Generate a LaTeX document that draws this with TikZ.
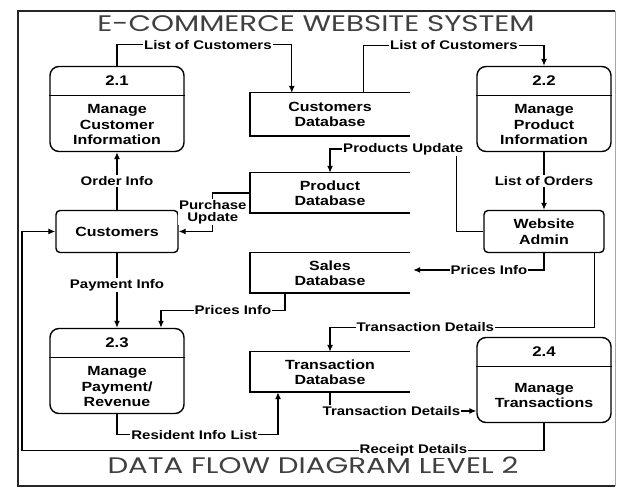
\documentclass[tikz,border=0pt]{standalone}
\usepackage{fontspec}
\setmainfont{Liberation Sans}[FakeStretch=1.2]
\newfontfamily\titlefont{Poppins}[FakeStretch=1.3]
\usetikzlibrary{arrows.meta}

\tikzset{
  proc/.style={draw, rounded corners=9pt, line width=1.4pt, minimum width=134pt, minimum height=85pt},
  ent/.style={draw, rounded corners=4pt, line width=1.4pt, minimum width=122pt, minimum height=42pt, font=\bfseries\fontsize{13.3}{15.5}\selectfont},
  store/.style={minimum width=160pt, minimum height=40pt, align=center, font=\bfseries\fontsize{13.3}{15.5}\selectfont},
  num/.style={font=\bfseries\fontsize{14}{16}\selectfont},
  ptext/.style={align=center, font=\bfseries\fontsize{13.3}{15.5}\selectfont},
  lbl/.style={fill=white, inner sep=1pt, align=center, font=\bfseries\fontsize{12.5}{12}\selectfont},
  flow/.style={->, line width=1.2pt},
  title/.style={anchor=base, inner sep=0pt, text depth=0pt, font=\titlefont\fontsize{22.5}{26}\selectfont, text=black!75},
}

\begin{document}
\begin{tikzpicture}[x=1pt, y=-1pt, >={Latex[length=7pt,width=6pt]}]
        \useasboundingbox (0,0) rectangle (633,494);
        \fill[white] (0,0) rectangle (633,494);
        % frame
        \draw[line width=1.4pt, black!85] (615,11) -- (18,11) -- (18,486) -- (615,486);
        \draw[line width=1pt, black!35] (615,11) -- (615,486);

        \node[title] (top) at (316,32) {E-COMMERCE WEBSITE SYSTEM};
        \node[title] (bottom) at (313,474) {DATA FLOW DIAGRAM LEVEL 2};

        % processes
        \node[proc] (p21) at (117,109) {};
        \node[proc] (p22) at (544,109) {};
        \node[proc] (p23) at (117,371) {};
        \node[proc] (p24) at (544,380) {};
        \draw[line width=1.2pt] ([yshift=-30pt]p21.north west) -- ([yshift=-30pt]p21.north east);
        \draw[line width=1.2pt] ([yshift=-30pt]p22.north west) -- ([yshift=-30pt]p22.north east);
        \draw[line width=1.2pt] ([yshift=-30pt]p23.north west) -- ([yshift=-30pt]p23.north east);
        \draw[line width=1.2pt] ([yshift=-30pt]p24.north west) -- ([yshift=-30pt]p24.north east);
        \node[num] at ([yshift=-15pt]p21.north) {2.1};
        \node[num] at ([yshift=-15pt]p22.north) {2.2};
        \node[num] at ([yshift=-15pt]p23.north) {2.3};
        \node[num] at ([yshift=-15pt]p24.north) {2.4};
        \node[ptext] at ([yshift=27.5pt]p21.south) {Manage\\Customer\\Information};
        \node[ptext] at ([yshift=27.5pt]p22.south) {Manage\\Product\\Information};
        \node[ptext] at ([yshift=27.5pt]p23.south) {Manage\\Payment/\\Revenue};
        \node[ptext] at ([yshift=27.5pt]p24.south) {Manage\\Transactions};

        % entities
        \node[ent] (cust) at (117,231.5) {Customers};
        \node[ent, minimum width=120pt, align=center] (admin) at (544,231.5) {Website\\Admin};

        % data stores
        \node[store, minimum height=43pt] (cdb) at (330,114.5) {Customers\\Database};
        \node[store] (pdb) at (330,193) {Product\\Database};
        \node[store] (sdb) at (330,273) {Sales\\Database};
        \node[store] (tdb) at (330,372) {Transaction\\Database};
        \draw[line width=1.4pt] (cdb.north east) -- (cdb.north west) -- (cdb.south west) -- (cdb.south east);
        \draw[line width=1.4pt] (pdb.north east) -- (pdb.north west) -- (pdb.south west) -- (pdb.south east);
        \draw[line width=1.4pt] (sdb.north east) -- (sdb.north west) -- (sdb.south west) -- (sdb.south east);
        \draw[line width=1.4pt] (tdb.north east) -- (tdb.north west) -- (tdb.south west) -- (tdb.south east);

        % data flows
        \draw[flow] (p21.north) -- ++(0,-21) -| ([xshift=42pt]cdb.north west) node[lbl, pos=0.26] {List of Customers};
        \draw[flow] ([xshift=114pt]cdb.north west) -- ++(0,-47.5) -| (p22.north) node[lbl, pos=0.25] {List of Customers};
        \draw[flow] (cust.north) -- (p21.south) node[lbl, midway] {Order Info};
        \draw[flow] (pdb.west) -- ++(-37,0) |- (cust.east) node[lbl, pos=0.25] {Purchase\\Update};
        \draw[flow] (admin.west) -- ++(-27,0) -- ++(0,-82.5) -| (pdb.north) node[lbl, pos=0.21] {Products Update};
        \draw[flow] (p22.south) -- (admin.north) node[lbl, midway] {List of Orders};
        \draw[flow] (admin.south) |- ([xshift=3pt, yshift=3pt]sdb.east) node[lbl, pos=0.71] {Prices Info};
        \draw[flow] ([xshift=-10pt]admin.south east) -- ++(0,74) -| (tdb.north) node[lbl, pos=0.32] {Transaction Details};
        \draw[flow] ([xshift=-45pt]sdb.south) -- ++(0,17) -| ([xshift=44pt]p23.north) node[lbl, pos=0.21] {Prices Info};
        \draw[flow] (cust.south) -- (p23.north) node[lbl, pos=0.43] {Payment Info};
        \draw[flow] (p23.south) -- ++(0,20.5) -| ([xshift=-52pt]tdb.south) node[lbl, pos=0.24] {Resident Info List};
        \draw[flow] (tdb.south) |- ([yshift=-31pt]p24.west) node[lbl, pos=0.71] {Transaction Details};
        \draw[flow] (p24.south) -- ++(0,27.5) -- ++(-522,0) node[lbl, pos=0.25] {Receipt Details} |- (cust.west);
    \end{tikzpicture}
\end{document}
